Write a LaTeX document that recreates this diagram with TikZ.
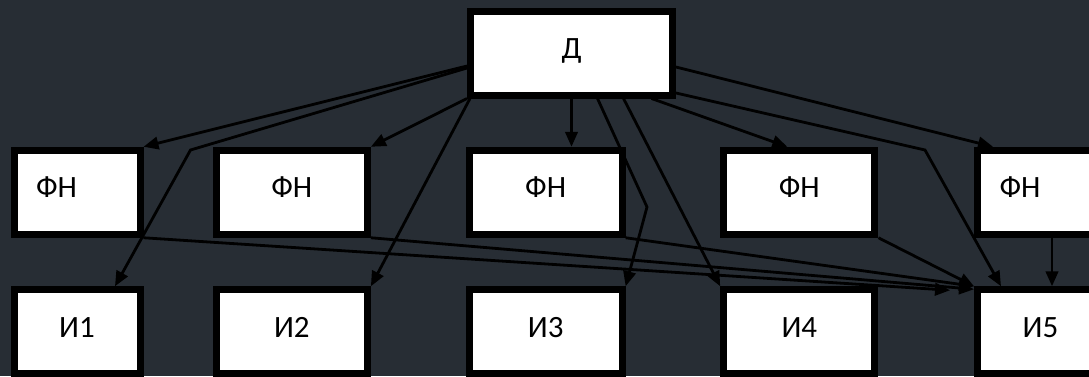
\documentclass[tikz,border=0pt]{standalone}
\usepackage{fontspec}
\setmainfont{Carlito}
\usetikzlibrary{arrows.meta,calc}
\definecolor{bg}{RGB}{39,45,52}
\begin{document}
\begin{tikzpicture}[x=1pt,y=-1pt,
  box/.style={draw=black,fill=white,line width=7pt,inner sep=0pt,
    text height=20pt,text depth=9pt,minimum height=84pt,
    font=\fontsize{31}{36}\selectfont},
  lbox/.style={box,text width=82pt,inner xsep=22pt,align=left},
  conn/.style={draw=black,line width=2.8pt,-{Triangle[length=15pt,width=12.5pt]}},
]
\fill[bg] (0,0) rectangle (1089,376);
\useasboundingbox (0,0) rectangle (1089,376);
\clip (0,0) rectangle (1089,376);

\node[box,minimum width=202pt] (d) at (571.5,53) {Д};

\node[lbox] (f1) at (77,192.25) {ФН};
\node[box,minimum width=151.2pt] (f2) at (291.8,192.25) {ФН};
\node[box,minimum width=152.9pt] (f3) at (545.7,192.25) {ФН};
\node[box,minimum width=151.2pt] (f4) at (799.3,192.25) {ФН};
\node[lbox] (f5) at (1040.5,192.25) {ФН};

\node[box,minimum width=126pt] (i1) at (77,331.75) {И1};
\node[box,minimum width=151.2pt] (i2) at (291.8,331.75) {И2};
\node[box,minimum width=152.9pt] (i3) at (545.7,331.75) {И3};
\node[box,minimum width=151.2pt] (i4) at (799.3,331.75) {И4};
\node[box,minimum width=126pt] (i5) at (1040.5,331.75) {И5};

\coordinate (b1) at (190.5,150);
\coordinate (b3) at (647,207);
\coordinate (b5) at (925,150);

% from D
\draw[conn] ([yshift=-13pt]d.west) -- (f1.north east);
\draw[conn] ([yshift=-15pt]d.west) -- (b1) -- ([xshift=38pt]i1.north);
\draw[conn] (d.south west) -- (f2.north east);
\draw[conn] ([xshift=3pt]d.south west) -- (i2.north east);
\draw[conn] (d.south) -- (d.south |- f3.north);
\draw[conn] ([xshift=26pt]d.south) -- (b3) -- (i3.north east);
\draw[conn] ([xshift=52pt]d.south) -- (i4.north west);
\draw[conn] ([xshift=80pt]d.south) -- ([xshift=-12pt]f4.north);
\draw[conn] ([yshift=-14pt]d.east) -- ([xshift=19pt]f5.north west);
\draw[conn] ([yshift=-40pt]d.east) -- (b5) -- ([xshift=27pt]i5.north west);

% to I5
\draw[conn] (f1.south east) -- ([xshift=-24pt,yshift=-4pt]i5.north west);
\draw[conn] (f2.south east) -- ([yshift=-3pt]i5.north west);
\draw[conn] (f3.south east) -- (i5.north west);
\draw[conn] (f4.south east) -- (i5.north west);
\draw[conn] ([xshift=11.5pt]f5.south) -- ([xshift=11.5pt]i5.north);
\end{tikzpicture}
\end{document}
